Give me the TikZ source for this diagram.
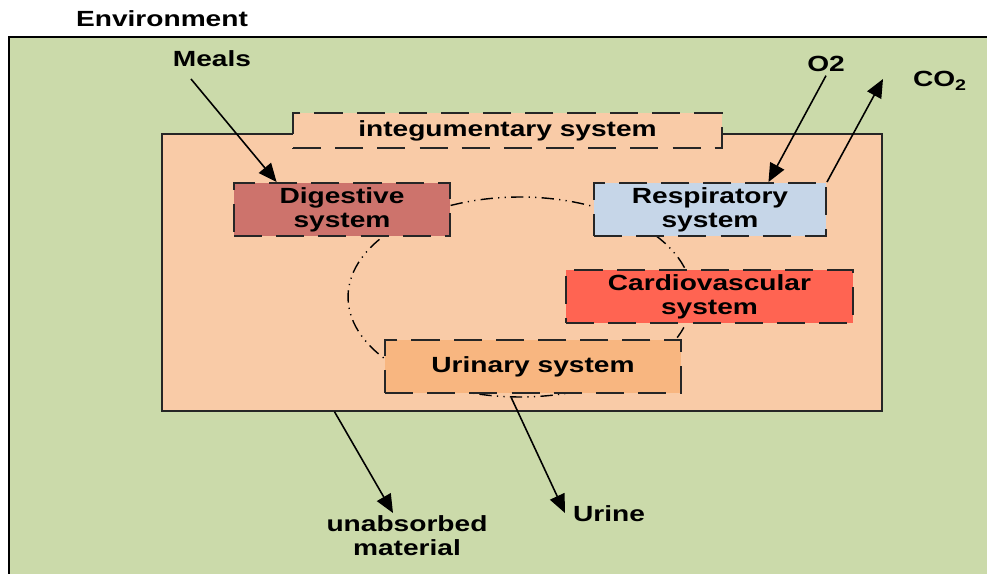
\documentclass[tikz,border=0pt]{standalone}
\usepackage{fontspec}
\newfontfamily\diagfont{Liberation Sans}[FakeStretch=1.28]
\usetikzlibrary{arrows.meta,calc,shapes.geometric}
\definecolor{envgreen}{RGB}{203,218,170}
\definecolor{bodyorange}{RGB}{249,203,167}
\definecolor{digestred}{RGB}{205,115,108}
\definecolor{respblue}{RGB}{198,214,232}
\definecolor{cardiored}{RGB}{255,100,82}
\definecolor{urinorange}{RGB}{248,182,128}
\tikzset{
	lbl/.style={align=center, inner sep=2pt, font={\diagfont\fontsize{12.5}{13.6}\selectfont\bfseries}},
	sysbox/.style={lbl, draw=black!85, line width=1.1pt, dash pattern=on 16pt off 8pt, minimum height=1.06cm},
	flow/.style={line width=0.9pt, -{Triangle[length=10.5pt,width=9pt]}},
	cycle/.style={ellipse, draw, line width=0.8pt, inner sep=0pt, dash pattern=on 7pt off 3pt on 0.7pt off 3pt on 0.7pt off 3pt}
}

\begin{document}
\begin{tikzpicture}[x=0.02cm, y=-0.02cm]
		%%%%% START %%%%%
		
		\clip (0, 0) rectangle (987, 574);
		\fill[white] (0, 0) rectangle (987, 574);
		
		\draw[fill=envgreen, line width=0.8pt] (9, 37) rectangle (1010, 600);
		\node[lbl] (env) at (162, 19) {Environment};
		
		\node[draw=black!85, fill=bodyorange, line width=0.8pt, inner sep=0pt, minimum width=14.4cm, minimum height=5.54cm] (body) at (522, 272.5) {};
		\node[sysbox, fill=bodyorange, minimum width=8.58cm, minimum height=0.7cm] (integ) at (507.5, 130.5) {integumentary system};
		
		\node[cycle, minimum width=6.88cm, minimum height=4cm] (loop) at (520, 297) {};
		
		\node[sysbox, fill=digestred, minimum width=4.32cm] (digestive) at (342, 209.5) {Digestive\\system};
		\node[sysbox, fill=respblue, minimum width=4.64cm] (respiratory) at (710, 209.5) {Respiratory\\system};
		\node[sysbox, fill=cardiored, minimum width=5.74cm] (cardio) at (709.5, 296.5) {Cardiovascular\\system};
		\node[sysbox, fill=urinorange, minimum width=5.92cm] (urinary) at (533, 366.5) {Urinary system};
		
		\node[lbl] (meals) at (212, 59) {Meals};
		\node[lbl] (o2) at (826, 64) {O2};
		\node[lbl] (co2) at (940, 81) {CO\textsubscript{2}};
		\node[lbl] (unabs) at (407, 536) {unabsorbed\\material};
		\node[lbl] (urine) at (609, 514) {Urine};
		
		\coordinate (mealsout) at (191, 79);
		\coordinate (co2in) at (883, 79);
		\coordinate (unabsin) at (393, 513);
		\coordinate (urinein) at (565, 513);
		
		\draw[flow] (mealsout) -- ($(digestive.north west)!0.2!(digestive.north east)$);
		\draw[flow] (o2.south) -- ($(respiratory.north west)!0.75!(respiratory.north east)$);
		\draw[flow] (respiratory.north east) -- (co2in);
		\draw[flow] ($(body.south west)!0.24!(body.south east)$) -- (unabsin);
		\draw[flow] (loop.265) -- (urinein);
		
		%%%%% END %%%%%
	\end{tikzpicture}
\end{document}
